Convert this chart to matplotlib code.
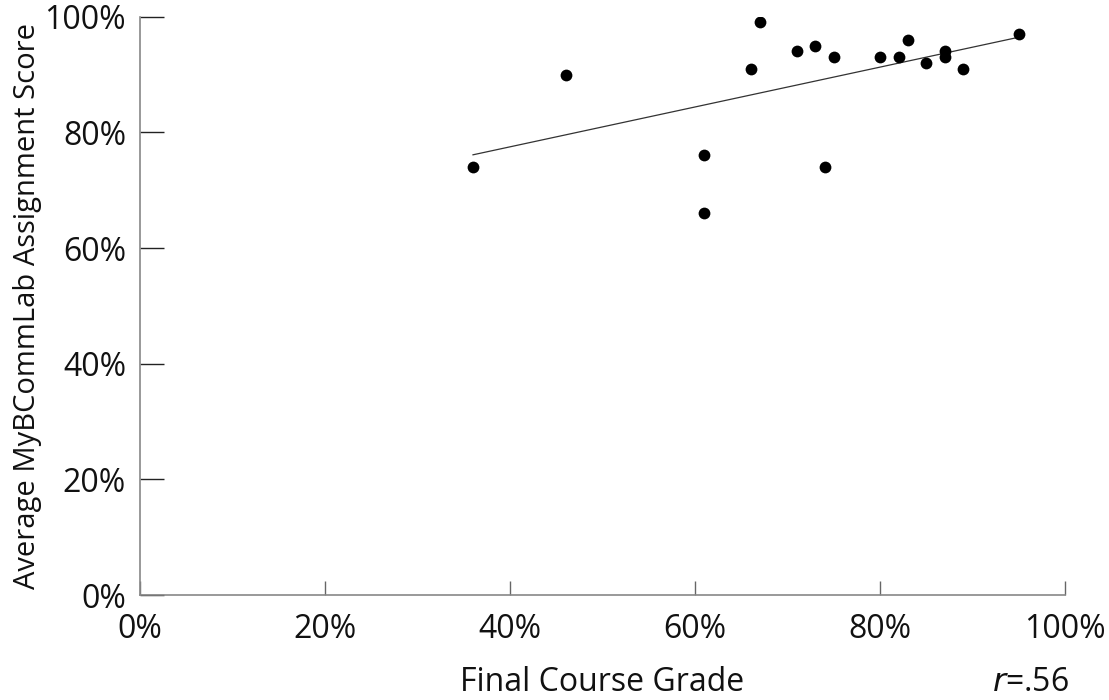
import numpy as np
import matplotlib.pyplot as plt
from matplotlib.ticker import PercentFormatter

plt.rcParams['font.family'] = ['Open Sans', 'DejaVu Sans']

# data (percent)
final_grade = [36, 46, 61, 61, 66, 67, 71, 73, 74, 75, 80, 82, 83, 85, 87, 87, 89, 95]
mybcl_score = [74, 90, 76, 66, 91, 99, 94, 95, 74, 93, 93, 93, 96, 92, 94, 93, 91, 97]
r_text = '$\\it{r}$=.56'


#----------------------------------------------------------------------------------------------------
fig = plt.figure(figsize=(11.09, 7.0), dpi=100)
ax = fig.add_axes([140/1109, 105/700, 925/1109, 578.3/700])

x = np.array(final_grade)
y = np.array(mybcl_score)

# trend line over data range
slope, intercept = np.polyfit(x, y, 1)
xs = np.array([x.min(), x.max()])
ax.plot(xs, slope*xs + intercept, color='#333333', lw=0.9, zorder=2)

ax.scatter(x, y, s=72, color='black', zorder=3, linewidths=0)

ax.set_xlim(0, 100)
ax.set_ylim(0, 100)
ax.set_xticks(range(0, 101, 20))
ax.set_yticks(range(0, 101, 20))
ax.xaxis.set_major_formatter(PercentFormatter(decimals=0))
ax.yaxis.set_major_formatter(PercentFormatter(decimals=0))

for s in ['top', 'right']:
    ax.spines[s].set_visible(False)
for s in ['left', 'bottom']:
    ax.spines[s].set_color('#888888')
    ax.spines[s].set_linewidth(1.2)

ax.tick_params(axis='x', direction='in', length=10, width=1, color='#666666',
               labelsize=23, pad=13, labelcolor='#111111')
ax.tick_params(axis='y', direction='in', length=17, width=1, color='#222222',
               labelsize=23, pad=10, labelcolor='#111111')

# axis labels
ax.set_xlabel('Final Course Grade', fontsize=23, color='#111111', va='baseline')
ax.xaxis.set_label_coords(0.5, -96/578.3)
ax.set_ylabel('Average MyBCommLab Assignment Score', fontsize=21, labelpad=2, color='#111111')

fig.text(1069/1109, 9/700, r_text, fontsize=23, ha='right', va='baseline', color='#111111')

fig.savefig('out.png', dpi=100)
